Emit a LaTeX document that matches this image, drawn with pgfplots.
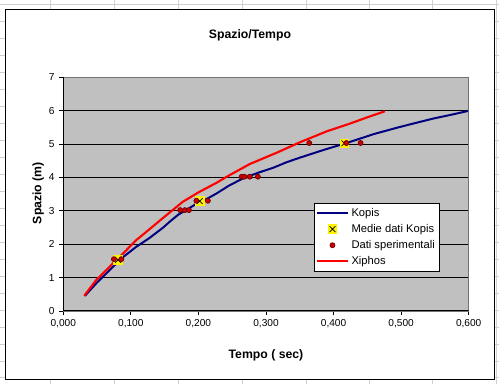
\documentclass[border=0pt]{standalone}
\usepackage{pgfplots}
\pgfplotsset{compat=1.18}
\usepackage{fontspec}
\setmainfont{Liberation Sans}
\definecolor{kopis}{RGB}{0,0,128}
\definecolor{xiphos}{RGB}{255,0,0}
\definecolor{dotfill}{RGB}{200,0,0}
\definecolor{dotdraw}{RGB}{110,0,0}
\definecolor{plotbg}{RGB}{192,192,192}
\definecolor{sheet}{RGB}{208,208,208}
\pgfdeclareplotmark{yx}{%
  \pgfsetfillcolor{yellow}%
  \pgfpathrectangle{\pgfpoint{-\pgfplotmarksize}{-\pgfplotmarksize}}{\pgfpoint{2\pgfplotmarksize}{2\pgfplotmarksize}}%
  \pgfusepath{fill}%
  \pgfsetstrokecolor{black}\pgfsetlinewidth{0.5pt}%
  \pgfpathmoveto{\pgfpoint{-0.6\pgfplotmarksize}{-0.6\pgfplotmarksize}}%
  \pgfpathlineto{\pgfpoint{0.6\pgfplotmarksize}{0.6\pgfplotmarksize}}%
  \pgfpathmoveto{\pgfpoint{-0.6\pgfplotmarksize}{0.6\pgfplotmarksize}}%
  \pgfpathlineto{\pgfpoint{0.6\pgfplotmarksize}{-0.6\pgfplotmarksize}}%
  \pgfusepathqstroke}
\pgfplotsset{
  linelegend/.style={legend image code/.code={\draw[##1] (0pt,0pt) -- (23pt,0pt);}},
  marklegend/.style={legend image code/.code={\draw[##1] plot coordinates {(11.5pt,0pt)};}},
  kopisstyle/.style={kopis, line width=1.5pt, linelegend},
  xiphosstyle/.style={xiphos, line width=1.6pt, linelegend},
  mediestyle/.style={only marks, mark=yx, mark size=3.6pt, marklegend},
  datistyle/.style={only marks, mark=*, mark size=1.9pt, mark options={fill=dotfill, draw=dotdraw, line width=0.5pt}, marklegend},
}
\begin{document}
\begin{tikzpicture}[x=0.75pt,y=0.75pt]
\fill[white] (0,0) rectangle (499,384);
% spreadsheet grid behind
\foreach \xx in {50,114,178,242,306,369,433,497} \draw[sheet,line width=0.5pt] (\xx,0) -- (\xx,384);
\foreach \yy in {4,21,...,384} \draw[sheet,line width=0.5pt] (0,384-\yy) -- (499,384-\yy);
\fill[white] (5,4) rectangle (495,375);
\draw[black,line width=1pt] (5,4) rectangle (495,375);
\begin{axis}[
  at={(47.25pt,54.75pt)}, anchor=south west,
  scale only axis, width=304.5pt, height=175.5pt,
  xmin=0, xmax=0.6, ymin=0, ymax=7,
  xtick={0,0.1,0.2,0.3,0.4,0.5,0.6},
  ytick={0,1,2,3,4,5,6,7},
  axis background/.style={fill=plotbg},
  axis line style={draw=gray!90!black, line width=0.6pt},
  ymajorgrids, grid style={black, line width=0.7pt},
  tick align=outside, major tick length=3pt,
  tick style={black, line width=0.6pt},
  xtick pos=bottom, ytick pos=left,
  /pgf/number format/assume math mode=true,
  xticklabel style={/pgf/number format/.cd, fixed, fixed zerofill, precision=3, use comma},
  ticklabel style={font=\fontsize{7.6pt}{9pt}\selectfont},
  legend style={at={(0.618,0.4615)}, anchor=north west, draw=black, fill=white,
    font=\fontsize{8.4pt}{9.7pt}\selectfont, row sep=0.5pt, inner sep=1.5pt,
    cells={anchor=west}},
  legend cell align=left,
]
% Kopis
\addplot[kopisstyle, forget plot] coordinates {
(0.032,0.45) (0.049,0.83) (0.074,1.33) (0.089,1.62) (0.108,1.92) (0.128,2.19)
(0.148,2.50) (0.158,2.68) (0.170,2.88) (0.180,3.00) (0.198,3.22) (0.212,3.35)
(0.227,3.52) (0.245,3.75) (0.266,3.97) (0.290,4.15) (0.311,4.29) (0.330,4.45)
(0.350,4.59) (0.385,4.82) (0.424,5.06) (0.460,5.30) (0.498,5.51) (0.547,5.76)
(0.575,5.88) (0.599,5.99)
};
% Xiphos
\addplot[xiphosstyle, forget plot] coordinates {
(0.031,0.45) (0.049,0.93) (0.074,1.43) (0.089,1.73) (0.108,2.12) (0.123,2.37)
(0.145,2.74) (0.177,3.27) (0.200,3.55) (0.227,3.84) (0.242,4.02) (0.276,4.40)
(0.316,4.74) (0.350,5.05) (0.390,5.38) (0.424,5.61) (0.450,5.80) (0.476,5.98)
};
% Medie dati Kopis
\addplot[mediestyle, forget plot] coordinates {
(0.081,1.53) (0.202,3.29) (0.416,5.02)
};
% Dati sperimentali
\addplot[datistyle, forget plot] coordinates {
(0.075,1.55) (0.086,1.55)
(0.173,3.02) (0.180,3.02) (0.186,3.02)
(0.197,3.30) (0.214,3.30)
(0.264,4.02) (0.268,4.02) (0.276,4.02) (0.288,4.02)
(0.364,5.03) (0.419,5.03) (0.440,5.03)
};
\addlegendimage{kopisstyle}
\addlegendentry{Kopis}
\addlegendimage{mediestyle}
\addlegendentry{Medie dati Kopis}
\addlegendimage{datistyle}
\addlegendentry{Dati sperimentali}
\addlegendimage{xiphosstyle}
\addlegendentry{Xiphos}
\draw[black, line width=0.8pt] (rel axis cs:0,1) -- (rel axis cs:0,0) -- (rel axis cs:1,0);
\end{axis}
\node[font=\bfseries\fontsize{9.2pt}{11pt}\selectfont] at (250,349) {Spazio/Tempo};
\node[font=\bfseries\fontsize{9.2pt}{11pt}\selectfont] at (266,29) {Tempo ( sec)};
\node[font=\bfseries\fontsize{9.2pt}{11pt}\selectfont, rotate=90] at (38,191) {Spazio (m)};
\end{tikzpicture}
\end{document}
